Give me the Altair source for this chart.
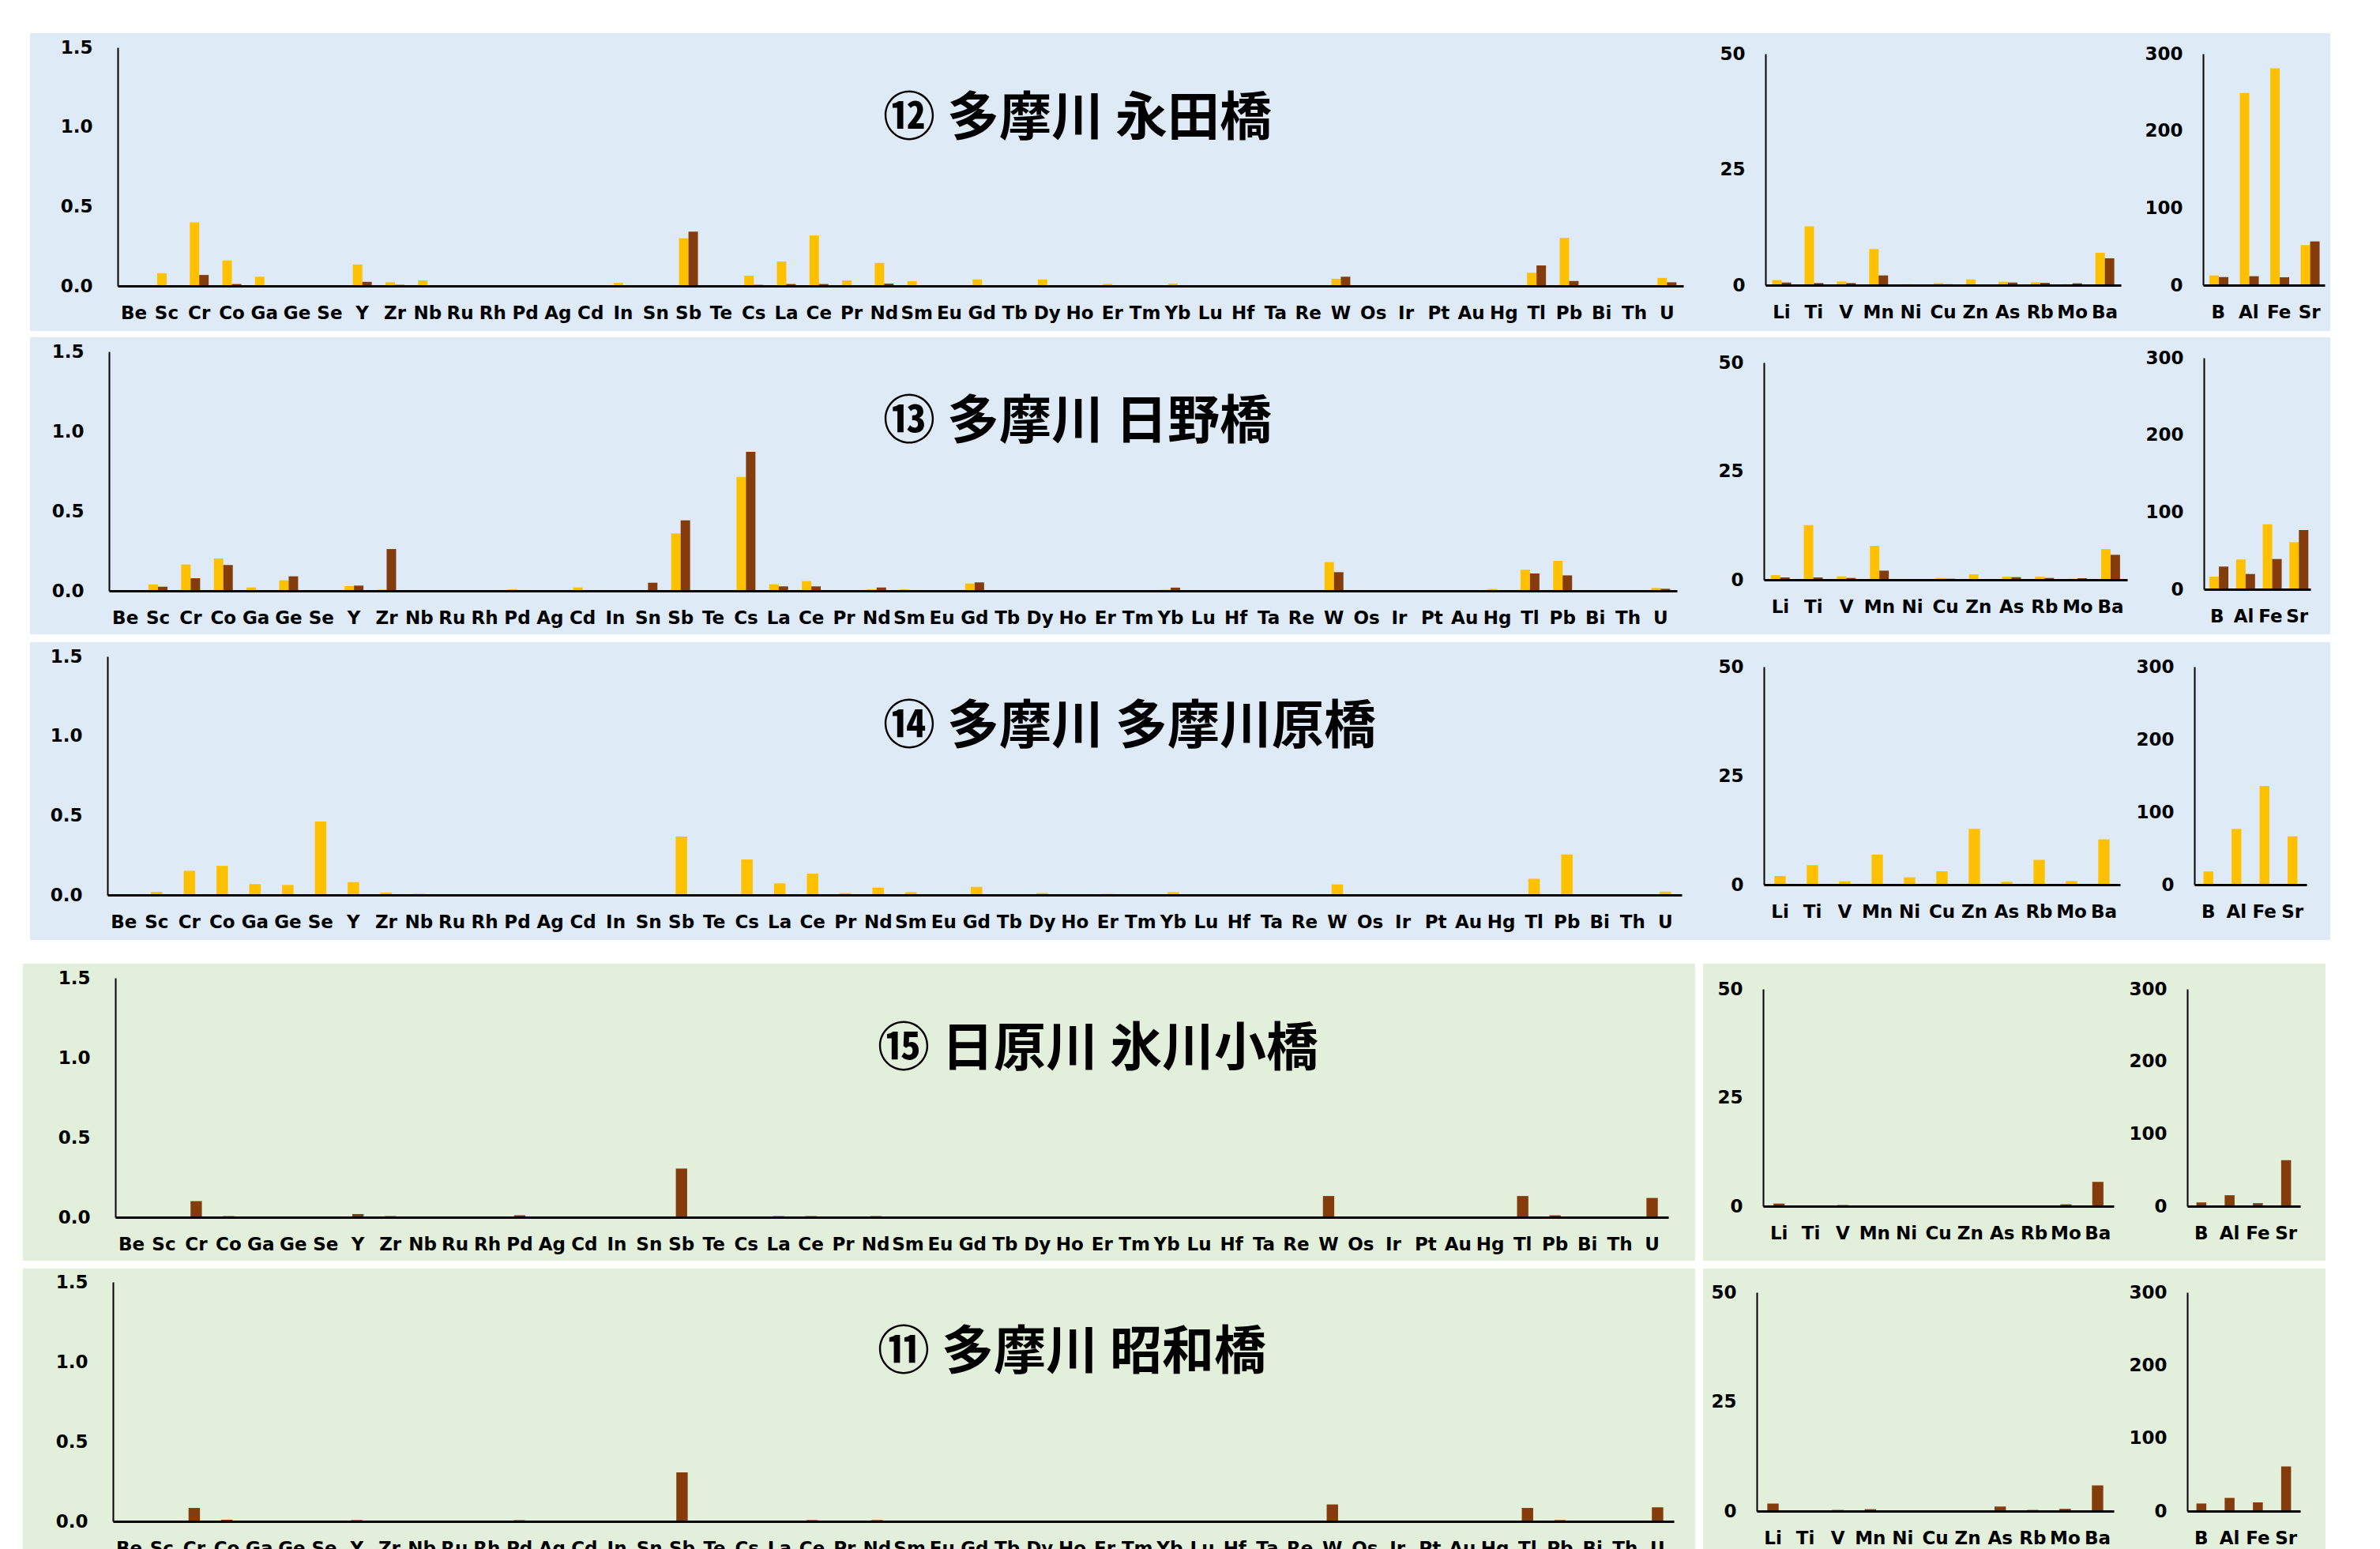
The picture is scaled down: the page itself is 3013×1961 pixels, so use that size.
import altair as alt
import pandas as pd

# ---------------- categories ----------------
MAIN_ELEMENTS = ["Be", "Sc", "Cr", "Co", "Ga", "Ge", "Se", "Y", "Zr", "Nb",
                 "Ru", "Rh", "Pd", "Ag", "Cd", "In", "Sn", "Sb", "Te", "Cs",
                 "La", "Ce", "Pr", "Nd", "Sm", "Eu", "Gd", "Tb", "Dy", "Ho",
                 "Er", "Tm", "Yb", "Lu", "Hf", "Ta", "Re", "W", "Os", "Ir",
                 "Pt", "Au", "Hg", "Tl", "Pb", "Bi", "Th", "U"]
MID_ELEMENTS = ["Li", "Ti", "V", "Mn", "Ni", "Cu", "Zn", "As", "Rb", "Mo", "Ba"]
MAJOR_ELEMENTS = ["B", "Al", "Fe", "Sr"]

TITLES = ["⑫ 多摩川 永田橋", "⑬ 多摩川 日野橋", "⑭ 多摩川 多摩川原橋",
          "⑮ 日原川 氷川小橋", "⑪ 多摩川 昭和橋"]

SERIES = ["A", "B"]
COLORS = ["#FFC000", "#843C0C"]

MAIN_TICKS = [0, 0.5, 1.0, 1.5]
MID_TICKS = [0, 25, 50]
MAJOR_TICKS = [0, 100, 200, 300]

# ---------------- ⑫ 永田橋 ----------------
S12_MAIN_A = [0, 0.08, 0.40, 0.16, 0.058, 0, 0, 0.135, 0.023, 0.035,
              0, 0, 0, 0, 0, 0.02, 0, 0.30, 0, 0.064,
              0.154, 0.317, 0.035, 0.145, 0.03, 0.005, 0.041, 0, 0.041, 0,
              0.013, 0, 0.015, 0, 0, 0, 0, 0.045, 0, 0,
              0, 0, 0, 0.083, 0.302, 0, 0, 0.05]
S12_MAIN_B = [0, 0, 0.069, 0.012, 0, 0, 0, 0.026, 0.007, 0,
              0, 0, 0, 0, 0, 0, 0, 0.342, 0, 0.007,
              0.012, 0.012, 0, 0.015, 0, 0, 0, 0, 0, 0,
              0, 0, 0, 0, 0, 0, 0, 0.058, 0, 0,
              0, 0, 0, 0.129, 0.031, 0, 0, 0.023]
S12_MID_A = [1.1, 12.7, 0.8, 7.8, 0.2, 0.45, 1.25, 0.74, 0.62, 0.2, 7.0]
S12_MID_B = [0.57, 0.45, 0.45, 2.1, 0, 0.2, 0, 0.57, 0.5, 0.4, 5.8]
S12_MAJ_A = [12.6, 249, 281, 51.9]
S12_MAJ_B = [10.6, 11.6, 10.2, 56.7]

# ---------------- ⑬ 日野橋 ----------------
S13_MAIN_A = [0, 0.04, 0.165, 0.203, 0.021, 0.066, 0, 0.03, 0.008, 0,
              0, 0, 0.01, 0.005, 0.021, 0.005, 0, 0.36, 0, 0.714,
              0.041, 0.061, 0, 0.01, 0.01, 0.002, 0.046, 0, 0.002, 0,
              0.002, 0, 0.007, 0, 0, 0, 0, 0.18, 0, 0,
              0, 0, 0.012, 0.132, 0.188, 0, 0, 0.018]
S13_MAIN_B = [0, 0.026, 0.079, 0.162, 0, 0.091, 0, 0.033, 0.262, 0.003,
              0, 0, 0, 0, 0, 0, 0.051, 0.442, 0, 0.871,
              0.028, 0.028, 0, 0.021, 0, 0, 0.053, 0, 0, 0,
              0, 0, 0.02, 0, 0, 0, 0.003, 0.117, 0, 0,
              0, 0, 0, 0.109, 0.097, 0, 0, 0.013]
S13_MID_A = [1.08, 12.6, 0.78, 7.8, 0.18, 0.42, 1.26, 0.72, 0.72, 0.24, 7.07]
S13_MID_B = [0.54, 0.54, 0.42, 2.1, 0, 0.24, 0, 0.6, 0.42, 0.36, 5.75]
S13_MAJ_A = [16.4, 38.6, 84.3, 61.1]
S13_MAJ_B = [29.4, 19.8, 39.2, 76.8]

# ---------------- ⑭ 多摩川原橋 ----------------
S14_MAIN_A = [0, 0.02, 0.152, 0.183, 0.068, 0.063, 0.462, 0.081, 0.015, 0.008,
              0, 0, 0, 0, 0, 0, 0, 0.367, 0, 0.223,
              0.073, 0.134, 0.012, 0.046, 0.018, 0.003, 0.051, 0, 0.012, 0,
              0.007, 0, 0.018, 0, 0, 0, 0, 0.066, 0, 0,
              0, 0, 0, 0.102, 0.255, 0, 0, 0.021]
S14_MID_A = [1.99, 4.5, 0.78, 6.9, 1.69, 3.07, 12.8, 0.66, 5.7, 0.84, 10.4]
S14_MAJ_A = [18.2, 77, 136, 66.5]

# ---------------- ⑮ 氷川小橋 ----------------
S15_MAIN_B = [0, 0, 0.101, 0.007, 0, 0, 0, 0.02, 0.007, 0,
              0, 0, 0.012, 0, 0, 0, 0, 0.305, 0, 0,
              0.007, 0.007, 0, 0.007, 0, 0, 0, 0, 0, 0,
              0, 0, 0, 0, 0, 0, 0, 0.133, 0, 0,
              0, 0, 0, 0.133, 0.012, 0, 0, 0.121]
S15_MID_B = [0.6, 0, 0.26, 0.17, 0, 0.1, 0, 0, 0.17, 0.43, 5.6]
S15_MAJ_B = [5.2, 15.1, 4.2, 63.6]

# ---------------- ⑪ 昭和橋 ----------------
S11_MAIN_B = [0, 0, 0.084, 0.01, 0, 0, 0, 0.008, 0, 0,
              0, 0, 0.008, 0, 0, 0, 0, 0.307, 0, 0,
              0.005, 0.008, 0, 0.008, 0, 0, 0, 0, 0, 0,
              0, 0, 0, 0, 0, 0, 0, 0.106, 0, 0,
              0, 0, 0, 0.084, 0.008, 0, 0, 0.088]
S11_MID_B = [1.73, 0, 0.26, 0.43, 0, 0.17, 0, 1.04, 0.26, 0.52, 5.87]
S11_MAJ_B = [10.4, 18.1, 11.9, 61.1]

BLUE_BG = "#DEEBF7"
GREEN_BG = "#E2EFDA"
LABEL_FONT = "DejaVu Sans"
LABEL_SIZE = 23


def panel(cats, series, width, height, ymax, ticks, fmt, bx, vx, by, vy, bg,
          y_range=None, x_offset=0, label_pad=27, title=None, title_xy=None):
    recs = []
    for name, vals in series:
        for c, v in zip(cats, vals):
            recs.append({"cat": c, "series": name, "value": v})
    df = pd.DataFrame(recs)
    one = pd.DataFrame({"k": [0]})
    bound = alt.Chart(one).mark_rect(color="white").encode(
        x=alt.value(bx[0]), x2=alt.value(bx[1]),
        y=alt.value(by[0]), y2=alt.value(by[1]))
    band = alt.Chart(one).mark_rect(color=bg).encode(
        x=alt.value(vx[0]), x2=alt.value(vx[1]),
        y=alt.value(vy[0]), y2=alt.value(vy[1]))
    grouped = len(series) > 1
    pin = 0.42 if grouped else 0.65
    if y_range is not None:
        ysc = alt.Scale(domain=[0, ymax], nice=False, zero=True, range=y_range)
    else:
        ysc = alt.Scale(domain=[0, ymax], nice=False, zero=True)
    enc = dict(
        x=alt.X("cat:N", sort=cats,
                scale=alt.Scale(paddingInner=pin, paddingOuter=pin / 2),
                axis=alt.Axis(title=None, labelAngle=0, labelOverlap=False,
                              ticks=False, domainWidth=3, domainColor="black",
                              labelPadding=23, offset=x_offset, zindex=1,
                              labelFont=LABEL_FONT, labelFontSize=LABEL_SIZE,
                              labelFontWeight="bold", labelColor="black")),
        y=alt.Y("value:Q", scale=ysc,
                axis=alt.Axis(title=None, values=ticks, format=fmt, grid=False,
                              ticks=False, domainWidth=2, domainColor="black",
                              labelPadding=label_pad, zindex=1,
                              labelFont=LABEL_FONT, labelFontSize=LABEL_SIZE,
                              labelFontWeight="bold", labelColor="black")),
        color=alt.Color("series:N", scale=alt.Scale(domain=SERIES, range=COLORS),
                        legend=None),
    )
    if grouped:
        enc["xOffset"] = alt.XOffset("series:N", sort=SERIES,
                                     scale=alt.Scale(domain=SERIES, paddingInner=0,
                                                     paddingOuter=0))
    bars = alt.Chart(df).mark_bar().encode(**enc)
    layers = [bound, band, bars]
    if title:
        txt = alt.Chart(one).mark_text(
            text=title, align="left", baseline="middle", font="Noto Sans CJK JP",
            fontSize=66, fontWeight="bold", color="black").encode(
            x=alt.value(title_xy[0]), y=alt.value(title_xy[1]))
        layers.append(txt)
    return alt.layer(*layers).properties(width=width, height=height)


def spacer(by, h):
    one = pd.DataFrame({"k": [0]})
    return alt.Chart(one).mark_rect(color="white").encode(
        x=alt.value(0), x2=alt.value(1),
        y=alt.value(by[0]), y2=alt.value(by[1])).properties(width=1, height=h)


def row(cfg):
    m, d, r = cfg["main"], cfg["mid"], cfg["maj"]
    main = panel(MAIN_ELEMENTS, cfg["main_series"], m["w"], cfg["h"], 1.5,
                 MAIN_TICKS, ".1f", m["bx"], m["vx"], cfg["by"], cfg["vy"], cfg["bg"],
                 label_pad=32, title=cfg["title"], title_xy=m["txy"])
    mid = panel(MID_ELEMENTS, cfg["mid_series"], d["w"], cfg["h"], 50,
                MID_TICKS, "d", d["bx"], d["vx"], cfg["by"], cfg["vy"], cfg["bg"],
                y_range=d["yr"], x_offset=d["off"], label_pad=26)
    maj = panel(MAJOR_ELEMENTS, cfg["maj_series"], r["w"], cfg["h"], 300,
                MAJOR_TICKS, "d", r["bx"], r["vx"], cfg["by"], cfg["vy"], cfg["bg"],
                y_range=r["yr"], x_offset=r["off"], label_pad=26)
    return alt.hconcat(spacer(cfg["by"], cfg["h"]), main, mid, maj, spacing=0)


ROWS = [
    dict(title=TITLES[0], bg=BLUE_BG, h=302, by=[-18, 367], vy=[-18, 359],
         main_series=[("A", S12_MAIN_A), ("B", S12_MAIN_B)],
         mid_series=[("A", S12_MID_A), ("B", S12_MID_B)],
         maj_series=[("A", S12_MAJ_A), ("B", S12_MAJ_B)],
         main=dict(w=1982, bx=[-120, 2001], vx=[-111, 2001], txy=[969, 91]),
         mid=dict(w=450, bx=[-85, 465], vx=[-85, 465], yr=[301, 8], off=-1),
         maj=dict(w=154, bx=[-89, 161], vx=[-89, 161], yr=[301, 8], off=-1)),
    dict(title=TITLES[1], bg=BLUE_BG, h=303, by=[-18, 368], vy=[-18, 358],
         main_series=[("A", S13_MAIN_A), ("B", S13_MAIN_B)],
         mid_series=[("A", S13_MID_A), ("B", S13_MID_B)],
         maj_series=[("A", S13_MAJ_A), ("B", S13_MAJ_B)],
         main=dict(w=1985, bx=[-109, 2012], vx=[-100, 2012], txy=[980, 90]),
         mid=dict(w=460, bx=[-83, 467], vx=[-83, 467], yr=[289, 14], off=-14),
         maj=dict(w=135, bx=[-90, 160], vx=[-90, 160], yr=[301, 8], off=-2)),
    dict(title=TITLES[2], bg=BLUE_BG, h=302, by=[-18, 389], vy=[-18, 359],
         main_series=[("A", S14_MAIN_A)],
         mid_series=[("A", S14_MID_A)],
         maj_series=[("A", S14_MAJ_A)],
         main=dict(w=1993, bx=[-107, 2014], vx=[-98, 2014], txy=[982, 90]),
         mid=dict(w=451, bx=[-83, 467], vx=[-83, 467], yr=[289, 13], off=-13),
         maj=dict(w=142, bx=[-78, 172], vx=[-78, 172], yr=[289, 13], off=-13)),
    dict(title=TITLES[3], bg=GREEN_BG, h=303, by=[-18, 368], vy=[-18, 358],
         main_series=[("B", S15_MAIN_B)],
         mid_series=[("B", S15_MID_B)],
         maj_series=[("B", S15_MAJ_B)],
         main=dict(w=1966, bx=[-117, 2000], vx=[-117, 2000], txy=[965, 91]),
         mid=dict(w=444, bx=[-86, 458], vx=[-76, 458], yr=[289, 14], off=-14),
         maj=dict(w=143, bx=[-79, 175], vx=[-79, 175], yr=[289, 14], off=-14)),
    dict(title=TITLES[4], bg=GREEN_BG, h=303, by=[-17, 359], vy=[-17, 359],
         main_series=[("B", S11_MAIN_B)],
         mid_series=[("B", S11_MID_B)],
         maj_series=[("B", S11_MAJ_B)],
         main=dict(w=1976, bx=[-114, 2003], vx=[-114, 2003], txy=[968, 90]),
         mid=dict(w=452, bx=[-78, 466], vx=[-68, 466], yr=[290, 13], off=-13),
         maj=dict(w=143, bx=[-79, 175], vx=[-79, 175], yr=[290, 13], off=-13)),
]

chart = alt.vconcat(*[row(c) for c in ROWS], spacing=0).properties(
    padding={"left": 20, "top": 34, "right": 10, "bottom": 10},
    background="white",
).configure_view(stroke=None).configure_axis(
    labelFont=LABEL_FONT, labelFontSize=LABEL_SIZE, labelFontWeight="bold",
    labelColor="black")

chart.save("out.html", embed_options={"renderer": "svg", "actions": False})
